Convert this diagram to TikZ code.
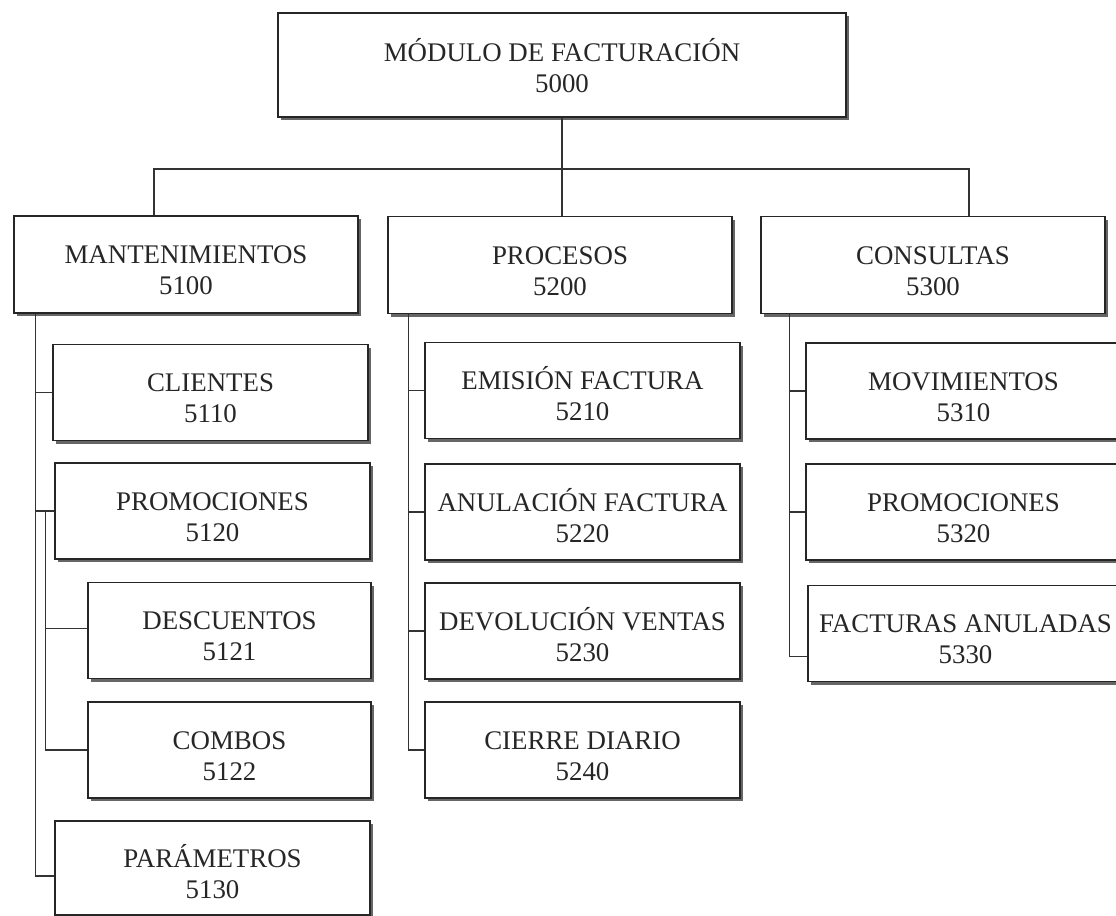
\documentclass[tikz,border=0pt]{standalone}
\usepackage{fontspec}
\setmainfont{Liberation Serif}
\usepackage{tikz}
\usetikzlibrary{shadows, calc}
\tikzstyle{caja} = [rectangle, minimum width=6.3cm, minimum height=1.92cm, text centered, align=center, draw=black!85, line width=0.8pt, fill=white, text=black!85, font=\fontsize{15.3}{17.6}\selectfont, text height=34.7pt, drop shadow={shadow xshift=1.8pt, shadow yshift=-1.8pt, fill=black!60, opacity=1}]
\tikzstyle{grupo} = [caja, minimum width=6.88cm, minimum height=1.94cm]
\tikzstyle{linea} = [line width=0.8pt, draw=black!80]

\begin{document}
\begin{tikzpicture}[x=0.02cm, y=-0.02cm]
            \clip (0,0) rectangle (1116,916);
            \node (modulo) [caja, minimum width=11.36cm, minimum height=2.08cm, text height=31pt] at (562,65) {MÓDULO DE FACTURACIÓN\\5000};

            \node (mantenimientos) [grupo] at (186,264.5) {MANTENIMIENTOS\\5100};
            \node (procesos) [grupo] at (560,265) {PROCESOS\\5200};
            \node (consultas) [grupo] at (933,265) {CONSULTAS\\5300};

            \node (clientes) [caja] at (210.5,392.5) {CLIENTES\\5110};
            \node (promociones) [caja] at (212.5,511) {PROMOCIONES\\5120};
            \node (descuentos) [caja, minimum width=5.66cm] at (229.5,630.5) {DESCUENTOS\\5121};
            \node (combos) [caja, minimum width=5.66cm] at (229.5,750) {COMBOS\\5122};
            \node (parametros) [caja, minimum height=1.88cm] at (212.5,868) {PARÁMETROS\\5130};

            \node (emision) [caja] at (582.5,390.5) {EMISIÓN FACTURA\\5210};
            \node (anulacion) [caja] at (582.5,512) {ANULACIÓN FACTURA\\5220};
            \node (devolucion) [caja] at (582.5,631) {DEVOLUCIÓN VENTAS\\5230};
            \node (cierre) [caja] at (582.5,750) {CIERRE DIARIO\\5240};

            \node (movimientos) [caja] at (963.5,391) {MOVIMIENTOS\\5310};
            \node (promos) [caja] at (963.5,512) {PROMOCIONES\\5320};
            \node (anuladas) [caja] at (965.5,633.5) {FACTURAS ANULADAS\\5330};

            \coordinate (bus) at (modulo.south |- 0,169);
            \draw [linea] (modulo.south) -- (modulo.south |- procesos.north);
            \draw [linea] ([xshift=-0.64cm]mantenimientos.north) |- (bus) -| ([xshift=0.72cm]consultas.north);

            \coordinate (tm) at ([xshift=0.44cm]mantenimientos.south west);
            \coordinate (tp) at ($(tm |- promociones.west)+(0.2cm,0)$);
            \draw [linea] (tm) |- ([yshift=-0.16cm]parametros.west);
            \draw [linea] (clientes.west) -- (clientes.west -| tm);
            \draw [linea] (promociones.west) -- (promociones.west -| tm);
            \draw [linea] (tp) |- (combos.west);
            \draw [linea] ([yshift=0.04cm]descuentos.west) -- ([yshift=0.04cm]descuentos.west -| tp);

            \coordinate (tr) at ([xshift=0.42cm]procesos.south west);
            \draw [linea] (tr) |- (cierre.west);
            \draw [linea] (emision.west) -- (emision.west -| tr);
            \draw [linea] (anulacion.west) -- (anulacion.west -| tr);
            \draw [linea] (devolucion.west) -- (devolucion.west -| tr);

            \coordinate (tc) at ([xshift=0.58cm]consultas.south west);
            \draw [linea] (tc) |- ([yshift=-0.46cm]anuladas.west);
            \draw [linea] (movimientos.west) -- (movimientos.west -| tc);
            \draw [linea] (promos.west) -- (promos.west -| tc);
        \end{tikzpicture}
\end{document}
